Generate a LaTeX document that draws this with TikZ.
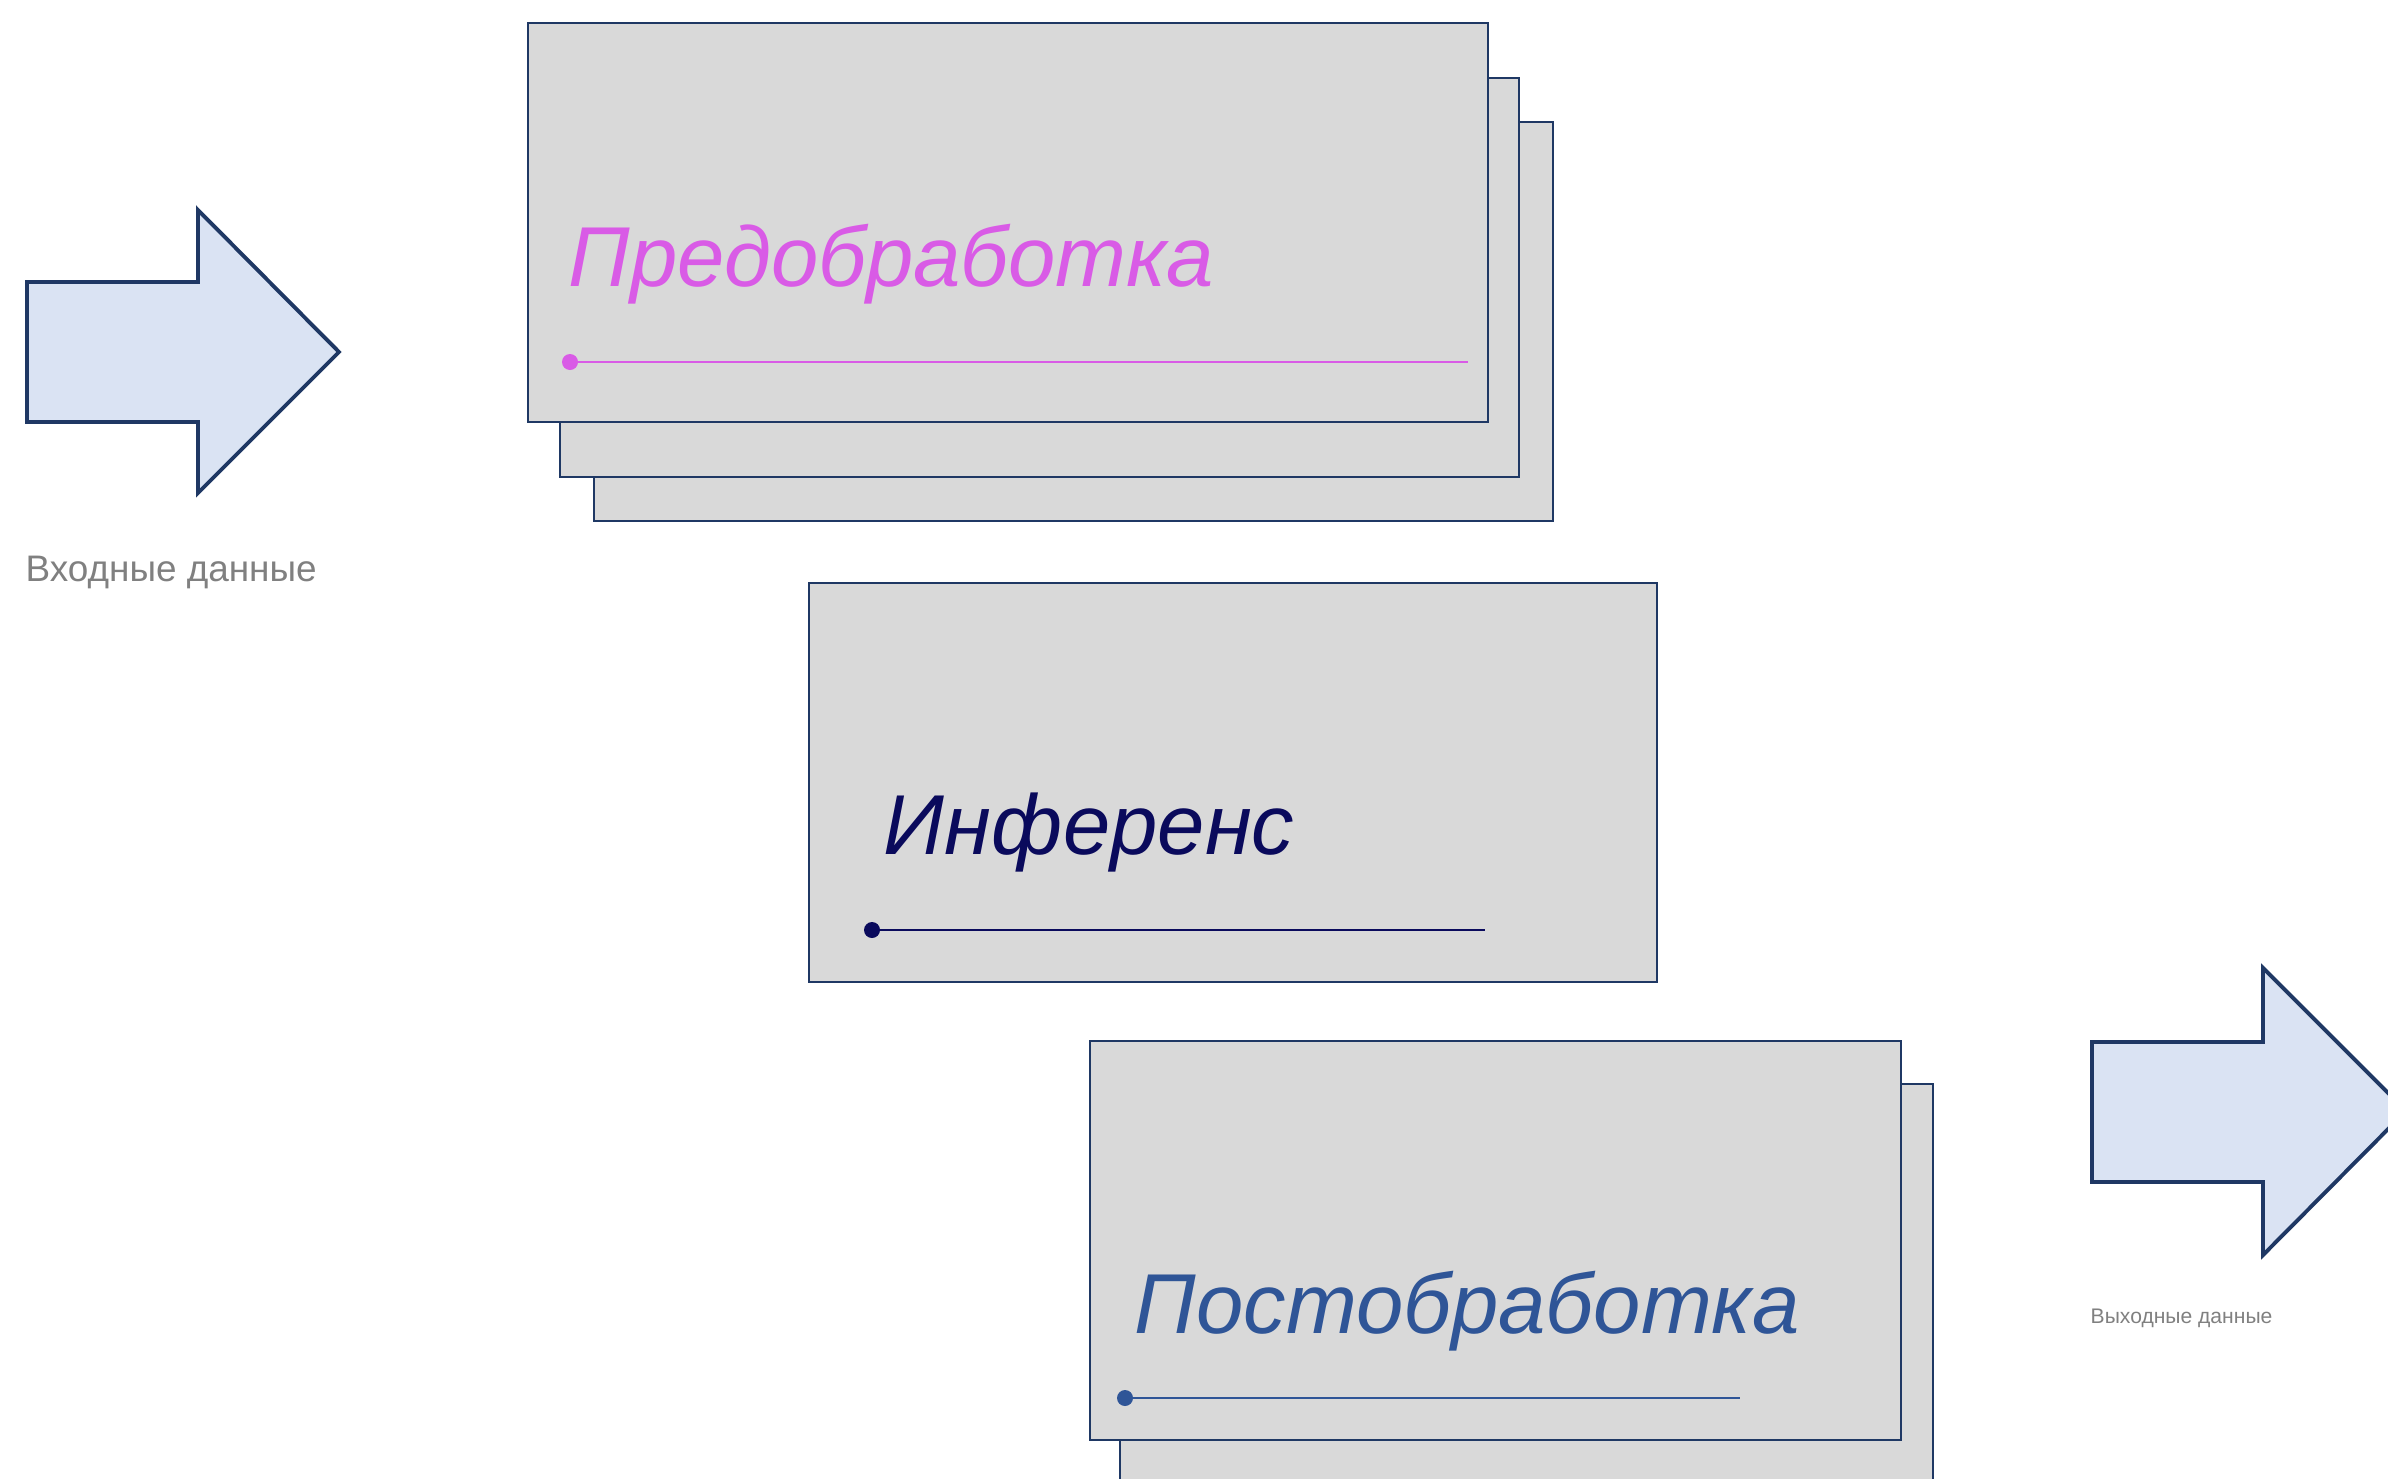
\documentclass[tikz,border=0pt]{standalone}
\usepackage{fontspec}
\setmainfont{Liberation Sans}
\usepackage{xcolor}
\usetikzlibrary{positioning}

\definecolor{cardfill}{HTML}{D9D9D9}
\definecolor{cardline}{HTML}{1F3864}
\definecolor{arrowfill}{HTML}{DAE3F3}
\definecolor{premagenta}{HTML}{D95BE6}
\definecolor{infnavy}{HTML}{0A0A5C}
\definecolor{postblue}{HTML}{2F5597}

\tikzset{
    card/.style={draw=cardline, line width=0.45pt, fill=cardfill, anchor=north west,
        inner sep=0pt, minimum width=#1, minimum height=3.99cm}, % one sheet of a stack
    title/.style={anchor=base west, inner sep=0pt, font=\fontsize{24.2}{29}\selectfont\itshape, text=#1},
    rule/.style={line width=0.8pt, draw=#1}, % underline below the title
    bigarrow/.style={draw=cardline, line width=1.1pt, fill=arrowfill, line join=miter},
    caption/.style={anchor=base west, inner sep=0pt, text=gray},
}

\begin{document}
\begin{tikzpicture}
    \useasboundingbox (0,0) rectangle (23.88,-14.78);

    % preprocessing: three sheets
    \node[card=9.59cm] (pre3) at (5.93,-1.21) {};
    \node[card=9.59cm] (pre2) at (5.59,-0.77) {};
    \node[card=9.60cm] (pre1) at (5.27,-0.22) {};
    \node[title=premagenta] (preText) at (5.68,-2.86) {Предобработка};
    \coordinate (preA) at (5.70,-3.62);
    \coordinate (preB) at (14.68,-3.62);
    \draw[rule=premagenta] (preA) -- (preB);
    \fill[premagenta] (preA) circle (0.08);

    % inference: one sheet
    \node[card=8.48cm] (inf) at (8.08,-5.82) {};
    \node[title=infnavy] (infText) at (8.83,-8.54) {Инференс};
    \coordinate (infA) at (8.72,-9.30);
    \coordinate (infB) at (14.85,-9.30);
    \draw[rule=infnavy] (infA) -- (infB);
    \fill[infnavy] (infA) circle (0.08);

    % postprocessing: two sheets
    \node[card=8.13cm] (post2) at (11.19,-10.83) {};
    \node[card=8.11cm] (post1) at (10.89,-10.40) {};
    \node[title=postblue] (postText) at (11.34,-13.33) {Постобработка};
    \coordinate (postA) at (11.25,-13.98);
    \coordinate (postB) at (17.40,-13.98);
    \draw[rule=postblue] (postA) -- (postB);
    \fill[postblue] (postA) circle (0.08);

    % input and output arrows
    \draw[bigarrow] (0.27,-2.82) -- ++(1.71,0) -- ++(0,0.72) -- ++(1.41,-1.42)
        -- ++(-1.41,-1.41) -- ++(0,0.71) -- ++(-1.71,0) -- cycle;
    \node[caption, font=\fontsize{10.5}{12}\selectfont] (inLabel) at (0.25,-5.81) {Входные данные};

    \draw[bigarrow] (20.92,-10.42) -- ++(1.71,0) -- ++(0,0.74) -- ++(1.43,-1.43)
        -- ++(-1.43,-1.44) -- ++(0,0.73) -- ++(-1.71,0) -- cycle;
    \node[caption, font=\fontsize{6}{7}\selectfont] (outLabel) at (20.90,-13.23) {Выходные данные};
\end{tikzpicture}
\end{document}
